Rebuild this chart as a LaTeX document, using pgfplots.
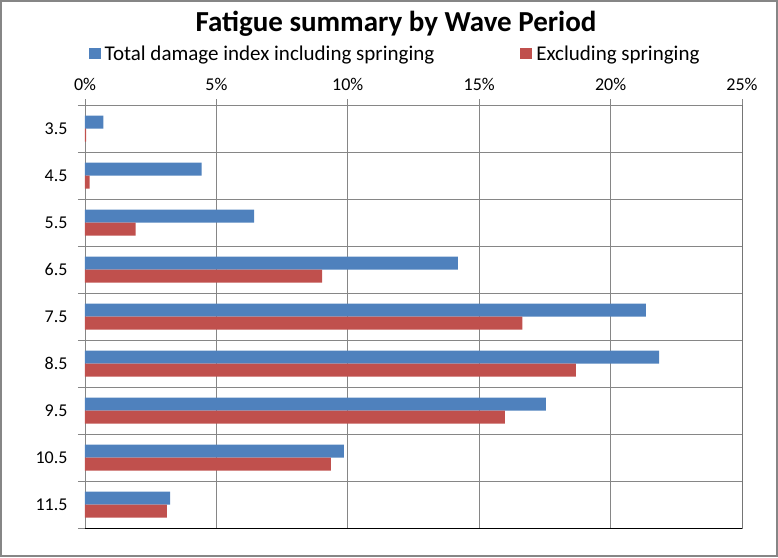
\documentclass[border=0pt]{standalone}
\usepackage{fontspec}
\setmainfont{Carlito}
\usepackage{pgfplots}
\pgfplotsset{compat=1.18}
\definecolor{xlblue}{HTML}{4F81BD}
\definecolor{xlred}{HTML}{C0504D}
\definecolor{xlgrid}{HTML}{868686}

\begin{document}
\begin{tikzpicture}
  \begin{axis}[
      scale only axis, width=657pt, height=423pt,
      xbar, bar width=13pt,
      xmin=0, xmax=25, ymin=3, ymax=12,
      y dir=reverse,
      xtick={0,5,...,25},
      xticklabels={0\%,5\%,10\%,15\%,20\%,25\%},
      xtick pos=upper, xticklabel pos=upper,
      ytick={3.5,4.5,...,11.5},
      yticklabels={3.5,4.5,5.5,6.5,7.5,8.5,9.5,10.5,11.5},
      minor ytick={3,4,...,12},
      ytick pos=left,
      tick align=outside,
      major tick length=6pt, minor tick length=7pt,
      major y tick style={draw=none},
      tick style={xlgrid, line width=0.8pt},
      xmajorgrids, yminorgrids,
      grid style={xlgrid, line width=0.8pt},
      axis line style={xlgrid, line width=0.8pt},
      ticklabel style={font=\fontsize{18}{22}\selectfont},
      xticklabel style={yshift=5pt},
      yticklabel style={xshift=-8pt},
      legend columns=2,
      legend style={at={(0.472,1)}, anchor=south, yshift=39pt, draw=none,
        font=\fontsize{21}{25}\selectfont,
        /tikz/every even column/.append style={column sep=84pt}},
      legend image code/.code={\fill[#1] (0pt,-5.5pt) rectangle (12pt,5.5pt); \path (14pt,0pt);},
      legend cell align=left,
    ]
    \addplot[fill=xlblue, draw=none, bar shift=6.5pt] coordinates {
      (0.70,3.5) (4.44,4.5) (6.44,5.5) (14.19,6.5) (21.34,7.5)
      (21.85,8.5) (17.54,9.5) (9.85,10.5) (3.24,11.5)};
    \addplot[fill=xlred, draw=none, bar shift=-6.5pt] coordinates {
      (0.04,3.5) (0.18,4.5) (1.93,5.5) (9.02,6.5) (16.64,7.5)
      (18.68,8.5) (15.98,9.5) (9.36,10.5) (3.12,11.5)};
    \legend{Total damage index including springing, Excluding springing}
    \draw[black, line width=0.9pt] (axis cs:0,12) -- (axis cs:25,12) -- (axis cs:25,3);
    \coordinate (sw) at (axis cs:0,12);
  \end{axis}
  \begin{scope}[shift={(sw)}, x=1pt, y=1pt]
    \pgfresetboundingbox
    \useasboundingbox (-85,-29) rectangle (693,528);
    \draw[xlgrid, line width=2.5pt] (-83.75,-27.75) rectangle (691.75,526.75);
    \node[font=\fontsize{29}{34}\selectfont\bfseries] at (311,504) {Fatigue summary by Wave Period};
  \end{scope}
\end{tikzpicture}
\end{document}
